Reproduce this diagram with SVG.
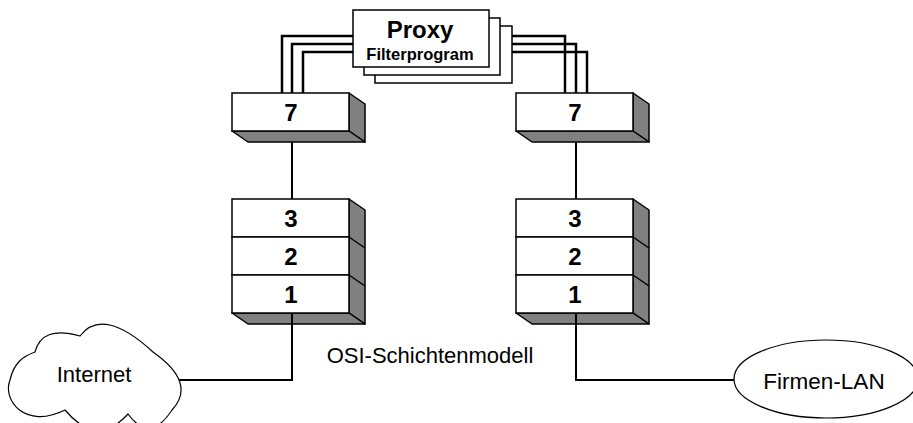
<svg xmlns="http://www.w3.org/2000/svg" width="913" height="423" viewBox="0 0 913 423">
<style>
.wire{fill:none;stroke:#000;stroke-width:2.5}
.conn{fill:none;stroke:#000;stroke-width:2}
.front{fill:#fff;stroke:#000;stroke-width:1.5}
.side{fill:#808080;stroke:#000;stroke-width:1.5;stroke-linejoin:round}
.edge{stroke:#000;stroke-width:1.5}
.num{font-family:"Liberation Sans",Arial,sans-serif;font-weight:bold;font-size:24px;text-anchor:middle}
.lbl{font-family:"Liberation Sans",Arial,sans-serif;font-size:22px;text-anchor:middle}
.outline{fill:#fff;stroke:#000;stroke-width:1.2}
</style>
<rect width="913" height="423" fill="#fff"/>
<g id="connectors">
<polyline class="wire" points="353,36 282,36 282,93"/>
<polyline class="wire" points="353,44 292,44 292,93"/>
<polyline class="wire" points="353,52 303,52 303,93"/>
<polyline class="wire" points="489,36 565,36 565,93"/>
<polyline class="wire" points="489,44 576,44 576,93"/>
<polyline class="wire" points="489,52 587,52 587,93"/>
<line class="conn" x1="292" y1="142" x2="292" y2="199"/>
<line class="conn" x1="576" y1="142" x2="576" y2="199"/>
<polyline class="conn" points="292,313 292,380 176,380"/>
<polyline class="conn" points="576,313 576,380 734,380"/>
</g>
<g id="proxy">
<rect class="front" x="375" y="26" width="137" height="57"/>
<rect class="front" x="364" y="18" width="136" height="57"/>
<rect class="front" x="353" y="10" width="136" height="57"/>
<text class="num" x="420" y="38">Proxy</text>
<text class="num" x="420" y="60" style="font-size:16.5px">Filterprogram</text>
</g>
<g id="left-layer7">
<polygon class="side" points="349,93 365,104 365,142 349,131"/>
<polygon class="side" points="232,131 349,131 365,142 248,142"/>
<rect class="front" x="232" y="93" width="117" height="38"/>
<text class="num" x="291" y="121">7</text>
</g>
<g id="right-layer7">
<polygon class="side" points="633,93 649,104 649,142 633,131"/>
<polygon class="side" points="516,131 633,131 649,142 532,142"/>
<rect class="front" x="516" y="93" width="117" height="38"/>
<text class="num" x="575" y="121">7</text>
</g>
<g id="left-stack">
<polygon class="side" points="349,199 365,210 365,324 349,313"/>
<line class="edge" x1="349" y1="237" x2="365" y2="248"/>
<line class="edge" x1="349" y1="275" x2="365" y2="286"/>
<polygon class="side" points="232,313 349,313 365,324 248,324"/>
<rect class="front" x="232" y="199" width="117" height="38"/>
<rect class="front" x="232" y="237" width="117" height="38"/>
<rect class="front" x="232" y="275" width="117" height="38"/>
<text class="num" x="291" y="227">3</text>
<text class="num" x="291" y="265">2</text>
<text class="num" x="291" y="303">1</text>
</g>
<g id="right-stack">
<polygon class="side" points="633,199 649,210 649,324 633,313"/>
<line class="edge" x1="633" y1="237" x2="649" y2="248"/>
<line class="edge" x1="633" y1="275" x2="649" y2="286"/>
<polygon class="side" points="516,313 633,313 649,324 532,324"/>
<rect class="front" x="516" y="199" width="117" height="38"/>
<rect class="front" x="516" y="237" width="117" height="38"/>
<rect class="front" x="516" y="275" width="117" height="38"/>
<text class="num" x="575" y="227">3</text>
<text class="num" x="575" y="265">2</text>
<text class="num" x="575" y="303">1</text>
</g>
<line class="conn" x1="292" y1="313" x2="292" y2="324"/>
<line class="conn" x1="576" y1="313" x2="576" y2="324"/>
<g id="osi-label">
<text class="lbl" x="430" y="363">OSI-Schichtenmodell</text>
</g>
<g id="internet">
<path class="outline" d="M35,352 Q42,325 80,336 Q103,306 153,352 Q197,383 172,410 Q150,444 128,414 Q97,448 65,410 C25,430 2,400 10,380 C14,362 24,356 35,352 Z"/>
<text class="lbl" x="94" y="382">Internet</text>
</g>
<g id="firmen-lan">
<ellipse class="outline" cx="826" cy="379" rx="92" ry="39"/>
<text class="lbl" x="824" y="389" style="font-size:22.5px">Firmen-LAN</text>
</g>
</svg>
